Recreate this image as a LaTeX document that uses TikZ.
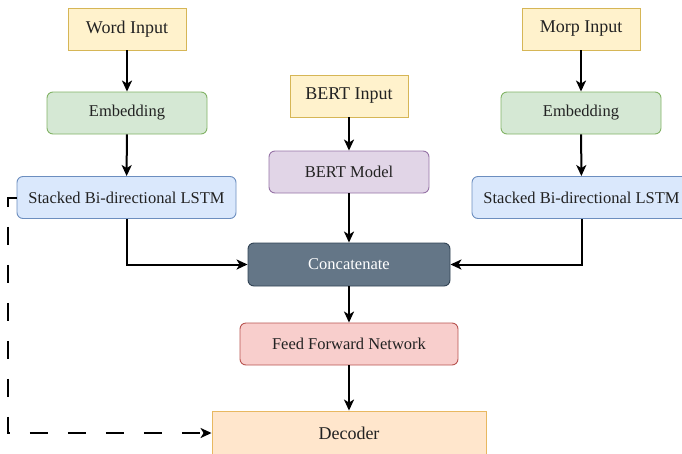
\documentclass[tikz,border=0pt]{standalone}
\usepackage{fontspec}
\setmainfont{Liberation Serif}
\usetikzlibrary{arrows.meta}
\definecolor{inFill}{HTML}{FFF2CC}\definecolor{inDraw}{HTML}{D6B656}
\definecolor{emFill}{HTML}{D5E8D4}\definecolor{emDraw}{HTML}{82B366}
\definecolor{lsFill}{HTML}{DAE8FC}\definecolor{lsDraw}{HTML}{6C8EBF}
\definecolor{btFill}{HTML}{E1D5E7}\definecolor{btDraw}{HTML}{9673A6}
\definecolor{ccFill}{HTML}{647687}\definecolor{ccDraw}{HTML}{314354}
\definecolor{ffFill}{HTML}{F8CECC}\definecolor{ffDraw}{HTML}{B85450}
\definecolor{dcFill}{HTML}{FFE6CC}\definecolor{dcDraw}{HTML}{E8B860}
\definecolor{txt}{HTML}{222222}
\tikzset{
  box/.style={draw, line width=0.9pt, inner sep=0pt, text=txt, anchor=center},
  inputbox/.style={box, fill=inFill, draw=inDraw, minimum width=118pt, minimum height=42pt, font=\fontsize{18}{20}\selectfont},
  rbox/.style={box, rounded corners=6pt, minimum height=42pt, font=\fontsize{16.5}{18}\selectfont},
  embbox/.style={rbox, fill=emFill, draw=emDraw, minimum width=160pt},
  lstmbox/.style={rbox, fill=lsFill, draw=lsDraw, minimum width=219pt},
  arr/.style={line width=2pt, -{Stealth[length=11pt, width=10pt, inset=3pt]}},
  dasharr/.style={arr, dash pattern=on 18pt off 20pt}
}
\begin{document}
\begin{tikzpicture}[x=1pt,y=-1pt]
\useasboundingbox (0,0) rectangle (682,453);
\clip (0,0) rectangle (682,453);
\node[inputbox] (wi) at (127,29) {Word Input};
\node[embbox] (we) at (127,113) {Embedding};
\node[lstmbox] (wl) at (126.5,197.5) {Stacked Bi-directional LSTM};
\node[inputbox] (bi) at (349,96) {BERT Input};
\node[rbox, fill=btFill, draw=btDraw, minimum width=160pt] (bm) at (349,172) {BERT Model};
\node[rbox, fill=ccFill, draw=ccDraw, minimum width=202pt, minimum height=43pt, text=white] (cc) at (349,264.5) {Concatenate};
\node[rbox, fill=ffFill, draw=ffDraw, minimum width=218pt] (ff) at (349,344) {Feed Forward Network};
\node[box, fill=dcFill, draw=dcDraw, minimum width=274pt, minimum height=44pt, font=\fontsize{18}{20}\selectfont] (dc) at (349,433) {Decoder};
\node[inputbox] (mi) at (581,29) {Morp Input};
\node[embbox] (me) at (581,113) {Embedding};
\node[lstmbox] (ml) at (581.5,197.5) {Stacked Bi-directional LSTM};
\draw[arr] (wi) -- (we);
\draw[arr] (we) -- (wl);
\draw[arr] (bi) -- (bm);
\draw[arr] (bm) -- (cc);
\draw[arr] (mi) -- (me);
\draw[arr] (me) -- (ml);
\draw[arr] (wl.south) |- (cc.west);
\draw[arr] (ml.south) |- (cc.east);
\draw[arr] (cc) -- (ff);
\draw[arr] (ff) -- (dc);
\coordinate (c1) at (8,197.5);
\coordinate (c2) at (8,433);
\draw[dasharr] (wl.west) -- (c1) -- (c2) -- (dc.west);
\end{tikzpicture}
\end{document}
